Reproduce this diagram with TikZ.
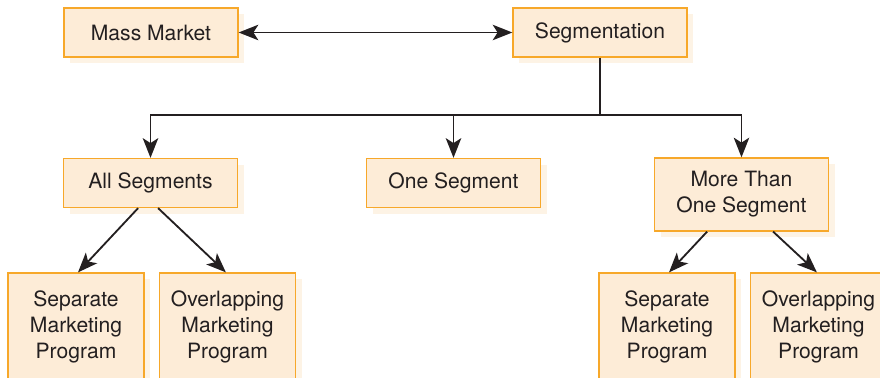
\documentclass[tikz,border=0pt]{standalone}
\usepackage{fontspec}
\setmainfont{TeX Gyre Heros}
\usetikzlibrary{arrows.meta,shadows}

\definecolor{boxfill}{RGB}{253,236,215}
\definecolor{boxline}{RGB}{247,168,42}
\definecolor{boxshade}{RGB}{253,243,229}
\definecolor{ink}{RGB}{35,31,32}

\begin{document}
\begin{tikzpicture}[
    >={Stealth[length=14pt, width=11pt, inset=3.5pt]},
    box/.style={draw=boxline, line width=0.9pt, fill=boxfill, text=ink,
      align=center, inner sep=0pt,
      font=\fontsize{15}{18.5}\selectfont,
      drop shadow={shadow xshift=4.3pt, shadow yshift=-4.3pt,
        fill=boxshade, opacity=1}},
    wide/.style={box, minimum width=4.35cm, minimum height=1.225cm},
    prog/.style={box, minimum width=3.4cm, minimum height=2.7cm},
    link/.style={draw=ink, line width=1.3pt}
  ]
  \useasboundingbox (0,0) rectangle (22,-9.45);

    % top row
    \node[wide] (mass) at (3.775,-0.8125) {Mass Market};
    \node[wide] (seg)  at (15.0,-0.8125)  {Segmentation};

    % middle row
    \node[wide] (all)  at (3.7625,-4.575)  {All Segments};
    \node[wide] (one)  at (11.3375,-4.575) {One Segment};
    \node[wide, minimum height=1.825cm] (more) at (18.5375,-4.8625)
      {More Than\\One Segment};

    % bottom row
    \node[prog] (sepA) at (1.9,-8.175)     {Separate\\Marketing\\Program};
    \node[prog] (ovlA) at (5.6875,-8.175)  {Overlapping\\Marketing\\Program};
    \node[prog] (sepB) at (16.675,-8.175)  {Separate\\Marketing\\Program};
    \node[prog] (ovlB) at (20.4625,-8.175) {Overlapping\\Marketing\\Program};

    \draw[link, <->] (mass) -- (seg);

    \coordinate (split) at (seg.south |- 0,-2.875);
    \draw[link] (seg.south) -- (split);
    \draw[link, ->] (split) -| (all.north);
    \draw[link, ->] (split) -| (more.north);
    \draw[link, ->] (one.north |- split) -- (one.north);

    \draw[link, ->] ([xshift=-0.31cm]all.south) -- ([xshift=0.05cm]sepA.north);
    \draw[link, ->] ([xshift=0.19cm]all.south) -- ([xshift=-0.04cm]ovlA.north);
    \draw[link, ->] ([xshift=-0.86cm]more.south) -- ([xshift=0.05cm]sepB.north);
    \draw[link, ->] ([xshift=0.79cm]more.south) -- ([xshift=-0.04cm]ovlB.north);

\end{tikzpicture}
\end{document}
